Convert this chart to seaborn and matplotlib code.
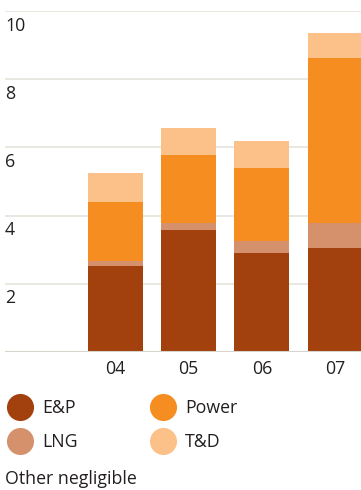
import numpy as np
import pandas as pd
import matplotlib
matplotlib.use("Agg")
import matplotlib.pyplot as plt
from matplotlib.lines import Line2D
import seaborn as sns

# ============================================
# Data
# ============================================
years = ["04", "05", "06", "07"]
series = ["E&P", "LNG", "Power", "T&D"]
ep = [2.53, 3.59, 2.91, 3.06]
lng = [0.13, 0.18, 0.34, 0.71]
power = [1.75, 2.02, 2.16, 4.85]
td = [0.85, 0.77, 0.77, 0.73]
y_ticks = [2, 4, 6, 8, 10]
note = "Other negligible"

colors = {"E&P": "#A3410E", "LNG": "#D4916C", "Power": "#F68D21", "T&D": "#FBC189"}

sns.set_theme(style="white")
plt.rcParams["font.family"] = ["Open Sans", "DejaVu Sans"]
text_col = "#231F20"
fs = 12.8

# cumulative heights, drawn from the top layer down
df = pd.DataFrame({"year": years, "E&P": ep, "LNG": lng, "Power": power, "T&D": td})
cum = df[series].cumsum(axis=1)

fig = plt.figure(figsize=(3.61, 4.90), dpi=100)
ax = fig.add_axes([5 / 361, (490 - 352) / 490, 356 / 361, 341 / 490])

for s in reversed(series):
    sns.barplot(x=df["year"], y=cum[s], color=colors[s], width=0.75,
                saturation=1, ax=ax, zorder=3, linewidth=0)

ax.set_ylim(0, 10)
ax.set_xlim(-1.51, 3.355)
for t in y_ticks:
    ax.axhline(t, color="#E4E4DC", lw=1.2, zorder=1)
ax.axhline(0, color="#D5D5CC", lw=2.2, zorder=4)

for sp in ax.spines.values():
    sp.set_visible(False)
ax.set_xlabel("")
ax.set_ylabel("")
ax.set_yticks([])
ax.tick_params(axis="x", length=0, pad=6, labelsize=fs, colors=text_col)

# y labels sit just under each gridline, at the left
for t in y_ticks:
    ax.annotate(str(t), xy=(0, t), xycoords=("axes fraction", "data"),
                xytext=(0, -4), textcoords="offset points",
                ha="left", va="top", fontsize=fs, color=text_col)

handles = [Line2D([], [], marker="o", ls="", markersize=19.5,
                  markerfacecolor=colors[s], markeredgewidth=0) for s in series]
leg = fig.legend(handles, series, ncol=2, loc="upper left",
                 bbox_to_anchor=(0.0, (490 - 392) / 490), frameon=False,
                 fontsize=fs, handletextpad=0.5, columnspacing=4.0,
                 labelspacing=0.92, borderaxespad=0, handlelength=1.5,
                 labelcolor=text_col)

fig.text(5 / 361, (490 - 479) / 490, note, ha="left", va="center",
         fontsize=fs, color=text_col)

fig.savefig("out.png", dpi=100)
